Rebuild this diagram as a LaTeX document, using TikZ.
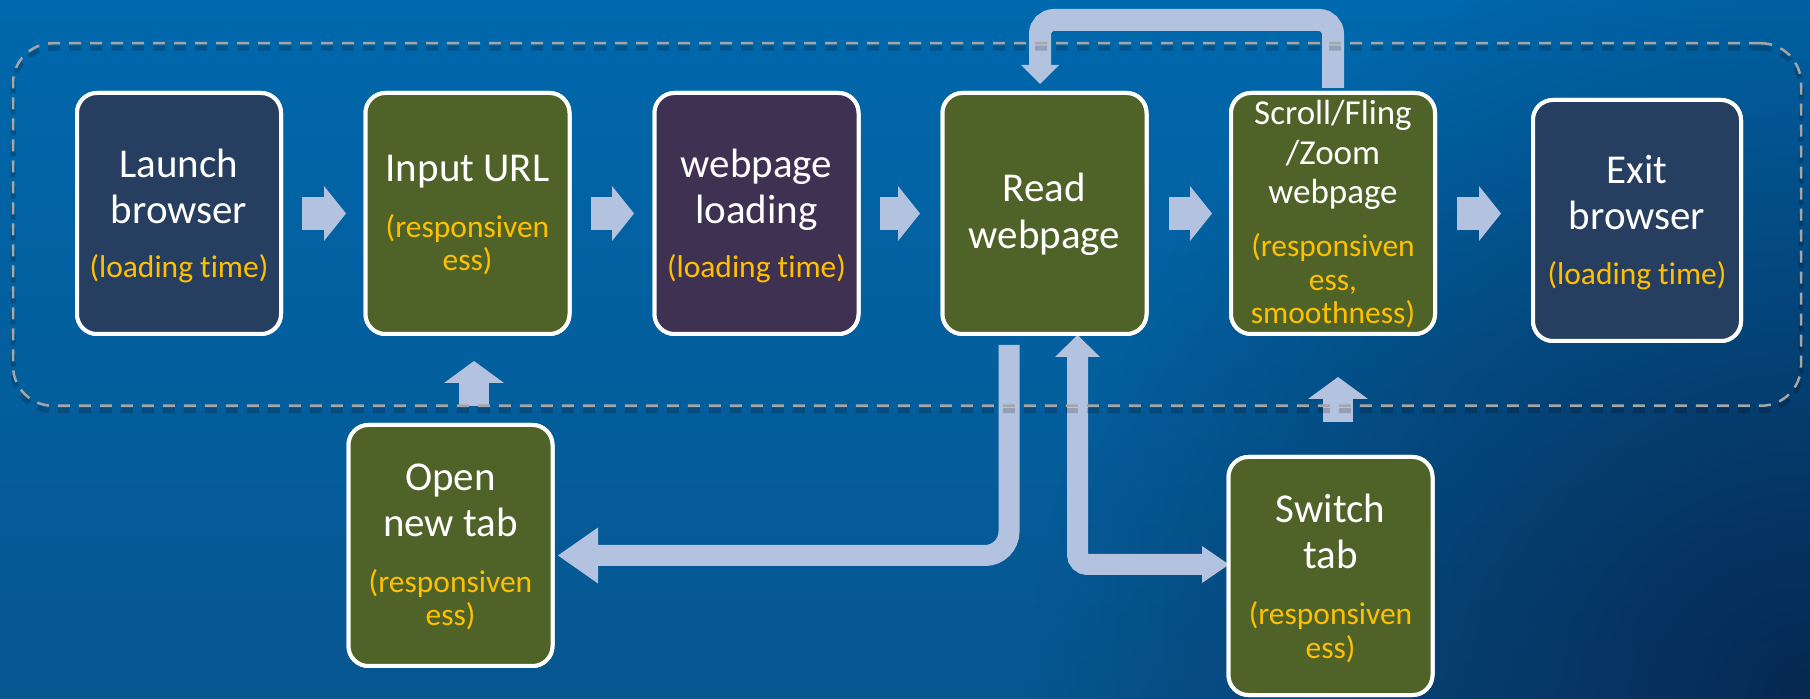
\documentclass[tikz,border=0pt]{standalone}
\usepackage{fontspec}
\setmainfont{Carlito}[Ligatures={NoCommon}]
\usetikzlibrary{arrows.meta,calc,fadings}
\definecolor{bgtop}{HTML}{0068AC}
\definecolor{bgmid}{HTML}{0677BD}
\definecolor{bgbot}{HTML}{065690}
\definecolor{darkfadec}{HTML}{06234B}
\definecolor{navyc}{HTML}{263E5F}
\definecolor{greenc}{HTML}{4F6228}
\definecolor{purplec}{HTML}{3F3151}
\definecolor{orangec}{HTML}{FFC000}
\definecolor{arrowc}{HTML}{B3C3DF}
\definecolor{dashc}{HTML}{A6A6A6}
\tikzfading[name=brfade, inner color=transparent!10, outer color=transparent!100]
\begin{document}
\begin{tikzpicture}[x=0.5pt,y=-0.5pt,
  stepbox/.style={draw=white, line width=2pt, rounded corners=10pt, minimum width=102pt, minimum height=120.5pt, outer sep=0pt, inner sep=0pt},
  maintext/.style={text=white, align=center, anchor=base, inner sep=0pt, font=\fontsize{20.5pt}{23.2pt}\selectfont},
  scrolltext/.style={text=white, align=center, anchor=base, inner sep=0pt, font=\fontsize{17.5pt}{19.75pt}\selectfont},
  subtext/.style={text=orangec, align=center, anchor=base, inner sep=0pt, font=\fontsize{15.75pt}{16.75pt}\selectfont},
  hflow/.style={draw=arrowc, line width=16.5pt, -{Triangle[length=11pt,width=27.5pt,line width=0pt]}},
  vflow/.style={draw=arrowc, line width=14.75pt, -{Triangle[length=11pt,width=30pt,line width=0pt]}},
  loopflow/.style={draw=arrowc, line width=11pt, rounded corners=7pt, -{Triangle[length=9.5pt,width=19pt,line width=0pt]}},
  branchflow/.style={draw=arrowc, line width=10.5pt, rounded corners=12pt, -{Triangle[length=20pt,width=28pt,line width=0pt]}},
  backflow/.style={draw=arrowc, line width=10.5pt, rounded corners=5pt, {Triangle[length=11pt,width=22.5pt,line width=0pt]}-{Triangle[length=13.5pt,width=18.5pt,line width=0pt]}},
  framebox/.style={line width=1.25pt, dash pattern=on 6pt off 4.5pt, rounded corners=20pt, minimum width=894pt, minimum height=181.25pt, inner sep=0pt, outer sep=0pt}
]
\useasboundingbox (0,0) rectangle (1810,699);
% background
\begin{scope}
  \clip (0,0) rectangle (1810,699);
  \shade[top color=bgtop, middle color=bgmid, bottom color=bgbot] (0,0) rectangle (1810,699);
  \fill[darkfadec, path fading=brfade] (1810,699) circle (780);
\end{scope}

% boxes
\node[stepbox, fill=navyc]   (b1) at (179,213.5) {};
\node[stepbox, fill=greenc]  (b2) at (467.5,213.5) {};
\node[stepbox, fill=purplec] (b3) at (756.5,213.5) {};
\node[stepbox, fill=greenc]  (b4) at (1044.5,213.5) {};
\node[stepbox, fill=greenc]  (b5) at (1333,213.5) {};
\node[stepbox, fill=navyc, minimum width=104pt] (b6) at (1637,220.5) {};
\node[stepbox, fill=greenc]  (b7) at (450.5,545.5) {};
\node[stepbox, fill=greenc, minimum height=119pt] (b8) at (1330.5,576) {};

% connectors
\draw[hflow] ($(b1.east)+(21,0)$) -- ($(b2.west)+(-19.5,0)$);
\draw[hflow] ($(b2.east)+(21.5,0)$) -- ($(b3.west)+(-20.5,0)$);
\draw[hflow] ($(b3.east)+(21.5,0)$) -- ($(b4.west)+(-22.5,0)$);
\draw[hflow] ($(b4.east)+(22.5,0)$) -- ($(b5.west)+(-19,0)$);
\draw[hflow] ($(b5.east)+(22,0)$) -- ($(b6.west)+(-32,-7)$);
\draw[vflow] ($(b7.north)+(23.5,-19)$) -- ($(b2.south)+(6.5,27)$);
\draw[vflow, line width=15pt] ($(b8.north)+(7.5,-35)$) -- ($(b5.south)+(5,43)$);

\coordinate (loopstart) at ($(b5.north)+(0,-5)$);
\coordinate (loopend) at ($(b4.north)+(-4.5,-9)$);
\coordinate (looptop) at (1190,20);
\draw[loopflow] (loopstart) -- (loopstart |- looptop) -- (loopend |- looptop) -- (loopend);

\coordinate (rdstart) at ($(b4.south)+(-35.5,11)$);
\coordinate (rdend) at ($(b7.east)+(5.5,10)$);
\draw[branchflow] (rdstart) |- (rdend);

\coordinate (swup) at ($(b4.south)+(33,1)$);
\coordinate (swright) at ($(b8.west)+(0.5,-11.5)$);
\draw[backflow] (swup) |- (swright);

% dashed frame with soft shadow
\node[framebox, draw=black, opacity=0.18, line width=2.5pt] (frameshadow) at (907,229.5) {};
\node[framebox, draw=dashc] (frame) at (907,224.5) {};

% redraw boxes on top
\node[stepbox, fill=navyc]   at (b1) {};
\node[stepbox, fill=greenc]  at (b2) {};
\node[stepbox, fill=purplec] at (b3) {};
\node[stepbox, fill=greenc]  at (b4) {};
\node[stepbox, fill=greenc]  at (b5) {};
\node[stepbox, fill=navyc, minimum width=104pt] at (b6) {};
\node[stepbox, fill=greenc]  at (b7) {};
\node[stepbox, fill=greenc, minimum height=119pt] at (b8) {};

% texts (base anchor = baseline of the last line)
\node[maintext] (t1) at (179,223.5) {Launch\\browser};
\node[subtext]  (s1) at (179,278) {(loading time)};
\node[maintext] (t2) at (467.5,181.7) {Input URL};
\node[subtext]  (s2) at (467.5,270.7) {(responsiven\\ess)};
\node[maintext] (t3) at (756.5,223.5) {webpage\\loading};
\node[subtext]  (s3) at (756.5,278) {(loading time)};
\node[maintext] (t4) at (1044.5,248.3) {Read\\webpage};
\node[scrolltext] (t5) at (1333,204) {Scroll/Fling\\/Zoom\\webpage};
\node[subtext]  (s5) at (1333,324) {(responsiven\\ess,\\smoothness)};
\node[maintext] (t6) at (1637,230) {Exit\\browser};
\node[subtext]  (s6) at (1637,285) {(loading time)};
\node[maintext] (t7) at (450.5,536.7) {Open\\new tab};
\node[subtext]  (s7) at (450.5,626) {(responsiven\\ess)};
\node[maintext] (t8) at (1330.5,568.7) {Switch\\tab};
\node[subtext]  (s8) at (1330.5,658.3) {(responsiven\\ess)};
\end{tikzpicture}
\end{document}
